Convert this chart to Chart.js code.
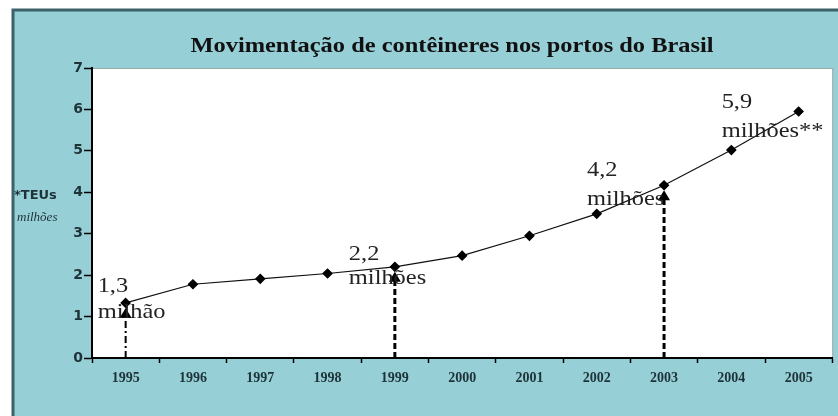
<!DOCTYPE html>
<html>
<head>
<meta charset="utf-8">
<script src="https://cdn.jsdelivr.net/npm/chart.js@4/dist/chart.umd.min.js"></script>
<style>
  html, body { margin: 0; padding: 0; background: #fff; }
  #wrap { width: 838px; height: 416px; }
</style>
</head>
<body>
<div id="wrap"><canvas id="c" width="838" height="416"></canvas></div>
<script>
// data (millions of TEUs)
const years = ['1995', '1996', '1997', '1998', '1999', '2000', '2001', '2002', '2003', '2004', '2005']
const teus = [1.33, 1.78, 1.91, 2.04, 2.2, 2.47, 2.95, 3.48, 4.17, 5.02, 5.95]
const yTicks = [0, 1, 2, 3, 4, 5, 6, 7]

// callouts: which year, value text, unit text
const calloutYears = ['1995', '1999', '2003', '2005']
const calloutValues = ['1,3', '2,2', '4,2', '5,9']
const calloutUnits = ['milhão', 'milhões', 'milhões', 'milhões**']
// arrows from the axis up to these years
const arrowYears = ['1995', '1999', '2003']

const title = 'Movimentação de contêineres nos portos do Brasil'
const PANEL = '#97cfd7'
const DARK = '#1d3338'
const STRETCH = 1.11 // the original text is a bit wide

// text offsets relative to the point, [dx, first baseline, second baseline]
const calloutOffsets = [[-28, -11, 15], [-46, -7, 17], [-77, -9, 20], [-77, -4, 25]]

// draw text widened horizontally around its left (or centre) anchor
function wideText(ctx, text, x, y) {
  ctx.save()
  ctx.translate(x, y)
  ctx.scale(STRETCH, 1)
  ctx.fillText(text, 0, 0)
  ctx.restore()
}

const framePlugin = {
  id: 'frame',
  beforeDraw(chart) {
    let {ctx, chartArea: a} = chart
    ctx.save()
    // teal panel with dark border top/left
    ctx.fillStyle = PANEL
    ctx.fillRect(13, 10, 838, 416)
    ctx.strokeStyle = '#3b6268'
    ctx.lineWidth = 3
    ctx.beginPath()
    ctx.moveTo(13, 416)
    ctx.lineTo(13, 10)
    ctx.lineTo(838, 10)
    ctx.stroke()
    // white plot area
    ctx.fillStyle = '#fff'
    ctx.fillRect(a.left, a.top, a.right - a.left, a.bottom - a.top)
    ctx.strokeStyle = '#9aa'
    ctx.lineWidth = 1
    ctx.strokeRect(a.left + 0.5, a.top + 0.5, a.right - a.left, a.bottom - a.top)
    // title
    ctx.fillStyle = '#111'
    ctx.font = 'bold 22px "Liberation Serif", "Times New Roman", serif'
    ctx.textAlign = 'center'
    ctx.textBaseline = 'alphabetic'
    wideText(ctx, title, 452, 52)
    // y axis caption
    ctx.textAlign = 'left'
    ctx.fillStyle = DARK
    ctx.font = 'bold 13px "DejaVu Sans", sans-serif'
    ctx.fillText('*TEUs', 14, 199)
    ctx.font = 'italic 13px "Liberation Serif", serif'
    ctx.fillText('milhões', 17, 221)
    ctx.restore()
  },
  afterDatasetsDraw(chart) {
    let {ctx, scales: {x, y}} = chart
    ctx.save()
    // dashed arrows
    arrowYears.forEach((yr, k) => {
      let i = years.indexOf(yr)
      let px = x.getPixelForValue(i)
      let py = y.getPixelForValue(teus[i])
      let top = py + 5
      ctx.strokeStyle = '#000'
      ctx.fillStyle = '#000'
      if (k === 0) {
        ctx.lineWidth = 2
        ctx.setLineDash([7, 3, 2, 3])
      } else {
        ctx.lineWidth = 3
        ctx.setLineDash([6, 3])
      }
      ctx.beginPath()
      ctx.moveTo(px, y.getPixelForValue(0))
      ctx.lineTo(px, top + 8)
      ctx.stroke()
      ctx.setLineDash([])
      ctx.beginPath()
      ctx.moveTo(px, top)
      ctx.lineTo(px - 6, top + 10)
      ctx.lineTo(px + 6, top + 10)
      ctx.closePath()
      ctx.fill()
    })
    // callout texts
    ctx.fillStyle = '#222'
    ctx.font = '22px "Liberation Serif", "Times New Roman", serif'
    ctx.textAlign = 'left'
    ctx.textBaseline = 'alphabetic'
    calloutYears.forEach((yr, k) => {
      let i = years.indexOf(yr)
      let px = x.getPixelForValue(i)
      let py = y.getPixelForValue(teus[i])
      let [dx, b1, b2] = calloutOffsets[k]
      wideText(ctx, calloutValues[k], px + dx, py + b1)
      wideText(ctx, calloutUnits[k], px + dx, py + b2)
    })
    ctx.restore()
  }
}

new Chart(document.getElementById('c'), {
  type: 'line',
  data: {
    labels: years,
    datasets: [{
      data: teus,
      borderColor: '#111',
      borderWidth: 1.2,
      backgroundColor: '#000',
      pointStyle: 'rectRot',
      pointRadius: 4.5,
      pointBackgroundColor: '#000',
      pointBorderColor: '#000',
      tension: 0
    }]
  },
  options: {
    responsive: false,
    animation: false,
    events: [],
    layout: {padding: {left: 0, top: 68, right: 5, bottom: 0}},
    plugins: {legend: {display: false}, tooltip: {enabled: false}, title: {display: false}},
    scales: {
      x: {
        offset: true,
        grid: {offset: true, drawOnChartArea: false, color: '#000', tickLength: 5, tickWidth: 1.5},
        border: {color: '#000', width: 2},
        ticks: {
          color: DARK,
          padding: 7,
          maxRotation: 0,
          font: {family: '"Liberation Serif", serif', size: 14, weight: 'bold'}
        },
        afterFit(s) { s.height = 58 }
      },
      y: {
        min: 0,
        max: 7,
        afterBuildTicks(s) { s.ticks = yTicks.map(v => ({value: v})) },
        grid: {drawOnChartArea: false, color: '#000', tickLength: 8, tickWidth: 1.5},
        border: {color: '#000', width: 2},
        ticks: {
          color: DARK,
          padding: 1,
          font: {family: '"DejaVu Sans", sans-serif', size: 14, weight: 'bold'}
        },
        afterFit(s) { s.width = 92 }
      }
    }
  },
  plugins: [framePlugin]
})
</script>
</body>
</html>
